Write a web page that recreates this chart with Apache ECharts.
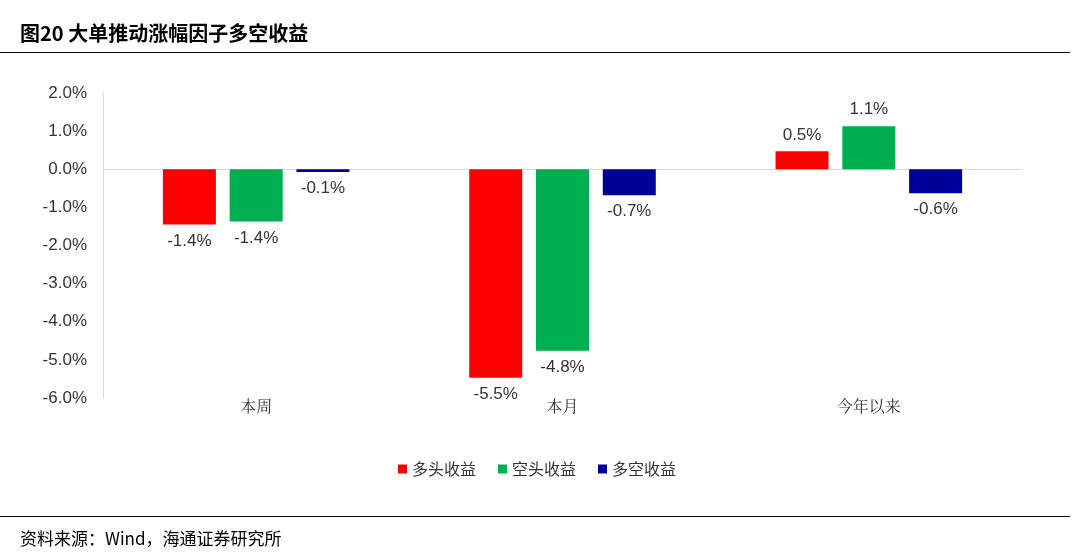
<!DOCTYPE html>
<html><head><meta charset="utf-8">
<script src="https://cdn.jsdelivr.net/npm/echarts@6/dist/echarts.min.js"></script>
<style>body{margin:0;background:#fff}#t{position:absolute;left:20px;top:18px;font:bold 20px "Noto Sans CJK SC";}
#l1{position:absolute;left:0;top:52px;width:1070px;border-top:1px solid #000}
#l2{position:absolute;left:0;top:516px;width:1070px;border-top:1px solid #000}
#s{position:absolute;left:20px;top:525px;font:17px "Noto Sans CJK SC";}
#c{position:absolute;left:0;top:0;width:1074px;height:558px}</style></head>
<body><div id="c"></div><div id="t">图20 大单推动涨幅因子多空收益</div><div id="l1"></div><div id="l2"></div><div id="s">资料来源：Wind，海通证券研究所</div>
<script>
const categories=['本周','本月','今年以来'];
const longRet=[-1.45,-5.47,0.47];
const shortRet=[-1.37,-4.76,1.13];
const lsRet=[-0.07,-0.68,-0.63];
const names=['多头收益','空头收益','多空收益'];
const colors=['#ff0000','#00b050','#000099'];
const mk=(arr)=>arr.map(v=>({value:v,label:{position:v<0?'bottom':'top'}}));
const ch=echarts.init(document.getElementById('c'));
ch.setOption({
 animation:false,
 grid:{left:103,right:52,top:93,bottom:160},
 legend:{bottom:76,left:'center',itemWidth:9,itemHeight:9,itemGap:22,icon:'rect',textStyle:{fontSize:16,fontFamily:'Noto Sans CJK SC',color:'#333'}},
 xAxis:{type:'category',data:categories,axisLine:{onZero:true,lineStyle:{color:'#d9d9d9'}},axisTick:{show:false},
  axisLabel:{fontSize:16,color:'#333',fontFamily:'Noto Serif CJK SC, Noto Sans CJK SC',margin:0,
   formatter:v=>v}, position:'bottom'},
 yAxis:{type:'value',min:-6,max:2,interval:1,splitLine:{show:false},axisLine:{show:true,lineStyle:{color:'#d9d9d9'}},
  axisLabel:{fontSize:17,color:'#333',fontFamily:'Liberation Sans',formatter:v=>v.toFixed(1)+'%',margin:16}},
 series:[longRet,shortRet,lsRet].map((d,i)=>({name:names[i],type:'bar',data:mk(d),barWidth:53,barGap:'26%',
  itemStyle:{color:colors[i]},label:{show:true,fontSize:17,color:'#333',fontFamily:'Liberation Sans',distance:8,
  formatter:p=>p.value.toFixed(1)+'%'}}))
});
</script></body></html>
